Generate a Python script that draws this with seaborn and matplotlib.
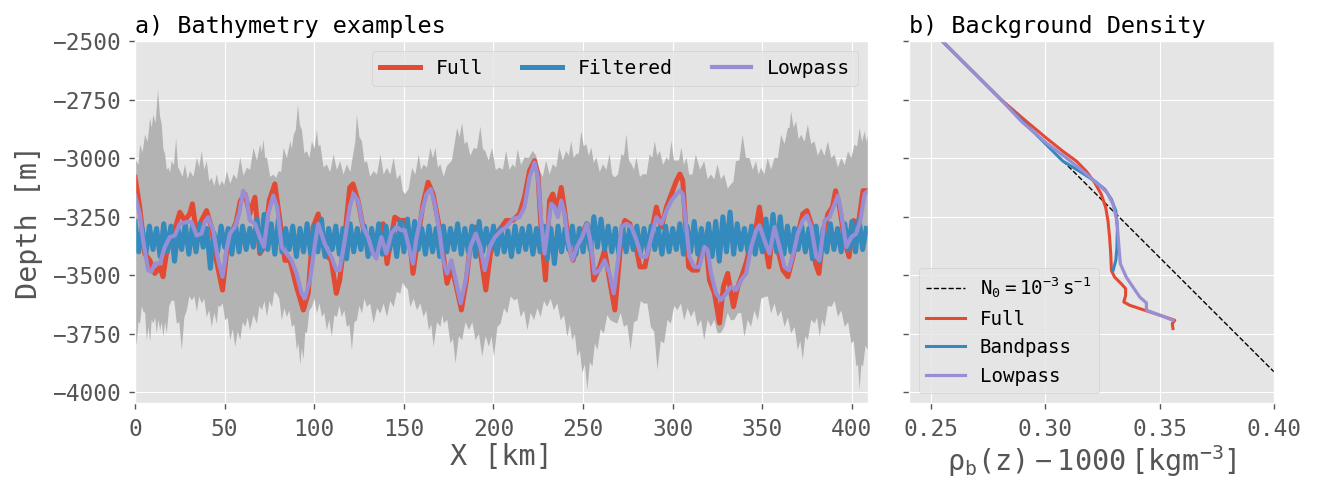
import numpy as np
import matplotlib
matplotlib.use("Agg")
import matplotlib.pyplot as plt
import seaborn as sns

# ---------------------------------------------------------------------------
# Panel a: bathymetry along the section (X in km, depth in m)
# ---------------------------------------------------------------------------
# Shallowest edge of the bathymetry ensemble: [X, depth]
ENV_TOP = np.array([
    [0, -3013], [0.9, -3013], [1.9, -3030], [2.8, -2942], [4.2, -2975], [5.6, -2900],
    [7.0, -2930], [8.4, -2829], [9.3, -2870], [10.2, -2815], [11.5, -2850], [12.8, -2708],
    [13.9, -2820], [14.9, -2857], [15.8, -2960], [16.8, -2985], [17.7, -3050], [18.6, -3041],
    [19.5, -3060], [20.5, -3013], [21.7, -3030], [22.9, -2914], [24.0, -3040], [25.1, -3055],
    [26.5, -3080], [27.9, -3027], [29.3, -3090], [30.7, -3055], [32.6, -3080], [34.5, -2998],
    [35.8, -3040], [37.2, -2970], [38.6, -3050], [40, -3013], [41.4, -3100], [42.8, -3083],
    [44.2, -3120], [45.6, -3069], [47.0, -3120], [48.4, -3097], [49.8, -3115], [51.2, -3055],
    [53.1, -3110], [55, -3069], [56.8, -3090], [58.7, -2998], [60.5, -3075], [62.4, -3041],
    [64.2, -3050], [66.1, -2956], [68.0, -3010], [69.8, -2942], [70.7, -2975], [71.7, -2921],
    [72.6, -3000], [73.6, -2998], [75.4, -3080], [77.3, -3070], [78.7, -3085], [80.1, -3055],
    [81.5, -3060], [82.9, -2956], [84.7, -3000], [86.6, -2928], [87.5, -2960], [88.5, -2900],
    [89.7, -2880], [90.9, -2773], [92.0, -2860], [93.1, -2879], [94.5, -2980], [95.9, -2970],
    [97.3, -3000], [98.7, -2928], [100.1, -2960], [101.5, -2879], [102.4, -2950], [103.4, -2942],
    [105.2, -3040], [107, -3027], [108.9, -3060], [110.8, -2985], [112.6, -3050], [114.5, -3013],
    [116.3, -3070], [118.2, -3027], [120.1, -3060], [122, -2970], [122.9, -2930], [123.8, -2815],
    [125.2, -2910], [126.6, -2928], [128.0, -3020], [129.4, -3013], [131.2, -3080], [133.1, -3055],
    [135.0, -3070], [136.9, -2985], [138.7, -3070], [140.6, -3041], [142.4, -3070], [144.3, -2998],
    [146.1, -3090], [148, -3069], [149.4, -3140], [150.8, -3154], [152.7, -3130], [154.6, -3041],
    [156.4, -3070], [158.3, -2985], [159.6, -3050], [161, -3027], [162.9, -3040], [164.8, -2956],
    [166.2, -3000], [167.6, -2956], [169.0, -3040], [170.4, -3027], [172.2, -3080], [174, -3034],
    [176.8, -3010], [179.7, -2872], [181.1, -2910], [182.5, -2850], [183.9, -2940], [185.3, -2928],
    [187.1, -2990], [189, -2957], [190.8, -2960], [192.7, -2865], [194.1, -2960], [195.5, -2971],
    [197.3, -3010], [199.2, -2957], [201.3, -3050], [203.4, -3040], [205.2, -3050], [207.1, -2969],
    [208.9, -3050], [210.8, -3026], [212.1, -3040], [213.5, -2962], [215.4, -3030], [217.3, -2997],
    [219.6, -3000], [221.9, -2969], [223.8, -2990], [225.7, -3054], [227.5, -3080], [229.4, -3011],
    [231.3, -3070], [233.1, -3026], [235.0, -3040], [236.8, -2955], [238.7, -3010], [240.6, -2969],
    [242.0, -2990], [243.4, -2927], [244.8, -3000], [246.2, -2983], [247.6, -2980], [249, -2884],
    [250.4, -2950], [251.8, -2941], [253.2, -2990], [254.6, -2955], [256.0, -3020], [257.4, -2997],
    [259.3, -3060], [261.1, -3026], [263.0, -3050], [264.8, -2983], [266.2, -3070], [267.6, -3082],
    [269.5, -3070], [271.4, -2983], [272.8, -2990], [274.2, -2898], [275.6, -3010], [277, -3026],
    [278.4, -3050], [279.8, -2997], [281.7, -3080], [283.5, -3068], [285.4, -3070], [287.2, -2983],
    [288.6, -3000], [290, -2927], [291.4, -2990], [292.8, -2969], [294.7, -3030], [296.5, -2997],
    [297.9, -3010], [299.3, -2927], [300.7, -3010], [302.1, -3010], [303.5, -3010], [304.9, -2955],
    [306.3, -3030], [307.7, -2997], [309.2, -3070], [311.0, -3070], [312.9, -2985], [315.3, -3050],
    [317.6, -3013], [319.5, -3090], [321.3, -3070], [323.2, -3090], [325, -3027], [326.9, -3090],
    [328.8, -3070], [330.7, -3130], [332.5, -3112], [333.9, -3100], [335.3, -3013], [337.2, -3010],
    [339, -2900], [340.9, -3000], [342.8, -2999], [344.7, -3050], [346.5, -3013], [347.9, -3070],
    [349.3, -3041], [351.2, -3070], [353, -2999], [354.9, -3050], [356.8, -2999], [358.7, -3000],
    [360.5, -2900], [362.4, -2940], [364.3, -2872], [365.2, -2870], [366.1, -2801], [367.5, -2870],
    [368.9, -2843], [370.3, -2920], [371.7, -2900], [373.6, -2930], [375.4, -2857], [377.3, -2940],
    [379.1, -2928], [381.0, -2990], [382.8, -2957], [384.7, -2990], [386.6, -2928], [388.5, -3000],
    [390.3, -2985], [392.2, -3040], [394.1, -2999], [396.0, -3030], [397.8, -2971], [399.7, -3000],
    [401.5, -2942], [402.9, -2950], [404.3, -2872], [405.7, -2930], [407.1, -2886], [408.1, -2930],
    [409, -2900],
])

# Deepest edge of the bathymetry ensemble: [X, depth]
ENV_BOT = np.array([
    [0, -3791], [0.9, -3791], [1.9, -3700], [2.8, -3706], [3.8, -3630], [4.7, -3656],
    [5.6, -3660], [6.5, -3777], [7.5, -3720], [8.4, -3784], [9.3, -3690], [10.2, -3706],
    [11.2, -3680], [12.1, -3748], [13.0, -3690], [14, -3734], [14.9, -3700], [15.8, -3762],
    [16.8, -3700], [17.7, -3748], [19.1, -3630], [20.5, -3607], [21.9, -3610], [23.3, -3706],
    [24.7, -3700], [26.1, -3819], [27.5, -3680], [28.9, -3649], [30.3, -3590], [31.7, -3607],
    [33.1, -3590], [34.5, -3656], [35.8, -3590], [37.2, -3621], [38.6, -3600], [40, -3678],
    [41.4, -3650], [42.8, -3720], [44.2, -3660], [45.6, -3706], [46.5, -3630], [47.5, -3635],
    [48.9, -3620], [50.3, -3692], [51.7, -3680], [53.1, -3777], [54.5, -3730], [55.9, -3805],
    [57.3, -3740], [58.7, -3777], [60.1, -3700], [61.5, -3720], [62.8, -3680], [64.2, -3734],
    [66.1, -3670], [68, -3706], [69.4, -3630], [70.8, -3649], [72.2, -3610], [73.6, -3678],
    [75.0, -3610], [76.4, -3635], [77.7, -3570], [79.1, -3579], [80.5, -3600], [81.9, -3692],
    [83.3, -3640], [84.7, -3678], [86.1, -3650], [87.5, -3720], [88.9, -3710], [90.3, -3819],
    [91.2, -3790], [92.2, -3883], [93.1, -3810], [94, -3861], [95.0, -3740], [95.9, -3748],
    [97.3, -3650], [98.7, -3635], [100.1, -3600], [101.5, -3663], [102.9, -3620], [104.3, -3678],
    [105.6, -3660], [107, -3734], [108.4, -3690], [109.8, -3762], [111.2, -3670], [112.6, -3678],
    [114.0, -3630], [115.4, -3678], [116.8, -3650], [118.2, -3720], [119.6, -3710], [121, -3819],
    [122.4, -3700], [123.8, -3692], [125.2, -3630], [126.6, -3663], [128.0, -3600], [129.4, -3635],
    [131.2, -3620], [133.1, -3706], [135.0, -3640], [136.9, -3663], [138.7, -3620], [140.6, -3678],
    [142.4, -3610], [144.3, -3635], [146.1, -3570], [148, -3579], [149.4, -3530], [150.8, -3550],
    [152.2, -3560], [153.6, -3635], [155.5, -3600], [157.3, -3649], [159.2, -3620], [161, -3678],
    [162.5, -3650], [163.9, -3734], [165.3, -3710], [166.6, -3805], [168.5, -3700], [170.4, -3720],
    [171.4, -3670], [172.3, -3706], [174.2, -3690], [176, -3791], [177.4, -3770], [178.8, -3876],
    [180.7, -3760], [182.5, -3777], [184.4, -3700], [186.3, -3734], [188.2, -3700], [190, -3777],
    [191.9, -3750], [193.7, -3847], [195.6, -3760], [197.5, -3805], [198.9, -3760], [200.3, -3847],
    [202.2, -3720], [204, -3706], [205.9, -3640], [207.7, -3663], [209.6, -3590], [211.5, -3607],
    [213.4, -3600], [215.2, -3678], [217.1, -3650], [218.9, -3734], [220.8, -3660], [222.6, -3692],
    [224.5, -3640], [226.3, -3678], [228.2, -3610], [230, -3635], [231.9, -3600], [233.7, -3649],
    [235.6, -3620], [237.5, -3692], [239.4, -3670], [241.2, -3762], [242.6, -3710], [244, -3777],
    [245.4, -3750], [246.8, -3847], [248.2, -3820], [249.6, -3918], [251.0, -3880], [252.4, -3989],
    [253.8, -3870], [255.2, -3890], [256.6, -3790], [258, -3819], [259.8, -3730], [261.6, -3748],
    [263.5, -3670], [265.3, -3692], [267.2, -3700], [269.1, -3706], [271.0, -3660], [272.8, -3720],
    [274.7, -3710], [276.5, -3819], [278.4, -3700], [280.3, -3692], [282.2, -3610], [284, -3621],
    [285.9, -3620], [287.8, -3720], [289.7, -3740], [291.5, -3904], [293.4, -3780], [295.2, -3791],
    [297.1, -3690], [299, -3706], [300.9, -3630], [302.7, -3649], [304.6, -3620], [306.4, -3692],
    [308.3, -3640], [310.2, -3678], [312.1, -3650], [313.9, -3720], [315.8, -3690], [317.6, -3777],
    [319.5, -3690], [321.3, -3720], [323.2, -3690], [325.1, -3748], [327.0, -3745], [328.8, -3720],
    [330.7, -3660], [332.5, -3692], [334.4, -3690], [336.3, -3663], [338.2, -3660], [340, -3762],
    [341.9, -3690], [343.7, -3720], [345.6, -3650], [347.5, -3692], [349.4, -3600], [351.2, -3593],
    [353.1, -3590], [354.9, -3663], [356.8, -3620], [358.6, -3678], [360.5, -3650], [362.4, -3720],
    [364.3, -3680], [366.1, -3748], [368.0, -3720], [369.8, -3819], [371.2, -3780], [372.6, -3861],
    [374.0, -3760], [375.4, -3777], [377.3, -3690], [379.2, -3706], [380.6, -3680], [382, -3762],
    [383.4, -3690], [384.7, -3720], [386.6, -3630], [388.5, -3635], [390.4, -3610], [392.2, -3678],
    [394.1, -3650], [396, -3720], [397.9, -3700], [399.7, -3791], [401.1, -3780], [402.5, -3890],
    [403.4, -3880], [404.3, -3989], [405.3, -3880], [406.2, -3890], [407.6, -3800], [409, -3819],
])

# Full-spectrum bathymetry example
FULL_X = [0, 2.6, 5.4, 8.2, 11, 13.8, 15.6, 17.5, 20.3, 23.1, 25, 27.7, 30.5, 32, 34.3, 37.1,
          39.9, 42.6, 45.4, 48.8, 51, 53.3, 56.2, 58.8, 61.3, 64, 66.9, 69.6, 71.9, 74.9, 78,
          80.8, 83.6, 86.4, 90.1, 93.9, 96.6, 99.4, 102.2, 105.8, 109.5, 112.3, 114.2, 117,
          119.8, 121.6, 124.4, 127.2, 130, 132.8, 135.6, 138.4, 140.6, 143, 144.9, 147.7,
          150.5, 153.2, 155.1, 157.9, 160.7, 163.5, 166.3, 169.1, 171.9, 174.1, 176.5, 179.3,
          182.1, 184.9, 187.3, 190.1, 193.3, 195.7, 198.3, 201.7, 204.5, 207.1, 210.8, 214.5,
          217.3, 220.1, 222.9, 224.8, 226.6, 229, 231.3, 233.1, 235.4, 237.8, 239.7, 242.2,
          244.4, 246.5, 249.5, 252.1, 254, 255.9, 259.2, 262, 264.8, 267.7, 269.9, 271.4,
          273.3, 276.1, 278.9, 281.7, 284.5, 287.3, 290.9, 293.7, 296.5, 299.3, 302.1, 304,
          305.6, 307.4, 308.9, 311.1, 313.9, 316.7, 318.6, 320.5, 323.3, 326.1, 328.3, 330.7,
          333.9, 336.3, 339.1, 341.4, 343.8, 346.2, 348.4, 351.2, 353.7, 356.3, 358.7, 361.5,
          364.3, 367.1, 369.9, 372.6, 374.9, 377.3, 379.7, 381.6, 383.8, 386.6, 389.1, 390.9,
          393.1, 395.9, 398.4, 401, 403.4, 406.2, 409]
FULL_Z = [-3082, -3209, -3407, -3436, -3492, -3464, -3506, -3407, -3337, -3280, -3231, -3266,
          -3238, -3195, -3322, -3266, -3224, -3294, -3436, -3563, -3407, -3322, -3280, -3181,
          -3153, -3238, -3167, -3407, -3379, -3181, -3110, -3266, -3436, -3436, -3549, -3648,
          -3577, -3294, -3238, -3407, -3436, -3577, -3520, -3337, -3125, -3110, -3181, -3294,
          -3365, -3407, -3379, -3280, -3450, -3337, -3252, -3266, -3266, -3351, -3492, -3337,
          -3195, -3103, -3153, -3266, -3407, -3534, -3464, -3549, -3648, -3520, -3351, -3294,
          -3436, -3563, -3407, -3322, -3294, -3266, -3266, -3238, -3167, -3054, -3011, -3068,
          -3308, -3520, -3181, -3153, -3224, -3125, -3224, -3379, -3436, -3379, -3322, -3280,
          -3337, -3520, -3464, -3393, -3520, -3648, -3464, -3322, -3266, -3280, -3351, -3464,
          -3464, -3351, -3209, -3294, -3209, -3153, -3096, -3068, -3096, -3308, -3464, -3478,
          -3478, -3365, -3365, -3520, -3577, -3704, -3549, -3492, -3634, -3549, -3492, -3436,
          -3351, -3308, -3209, -3351, -3464, -3280, -3393, -3478, -3506, -3421, -3322, -3238,
          -3224, -3280, -3450, -3492, -3337, -3238, -3209, -3139, -3209, -3351, -3421, -3266,
          -3294, -3139, -3139]

# Band-pass filtered bathymetry example (sampled every 2 km)
FILT_X = np.arange(0, 409, 2)
FILT_Z = [-3270, -3400, -3300, -3410, -3290, -3390, -3300, -3420, -3280, -3400,
          -3290, -3440, -3300, -3390, -3280, -3410, -3290, -3400, -3280, -3380,
          -3300, -3470, -3320, -3400, -3290, -3380, -3300, -3410, -3280, -3400,
          -3290, -3390, -3300, -3380, -3260, -3400, -3240, -3390, -3280, -3410,
          -3260, -3400, -3300, -3390, -3290, -3420, -3300, -3400, -3280, -3410,
          -3290, -3400, -3260, -3420, -3300, -3390, -3290, -3410, -3300, -3430,
          -3280, -3400, -3300, -3390, -3290, -3420, -3300, -3400, -3280, -3410,
          -3290, -3390, -3300, -3420, -3270, -3400, -3260, -3410, -3270, -3390,
          -3300, -3410, -3290, -3400, -3300, -3420, -3290, -3400, -3300, -3390,
          -3280, -3410, -3300, -3400, -3290, -3420, -3270, -3400, -3300, -3390,
          -3290, -3410, -3300, -3400, -3310, -3420, -3290, -3400, -3300, -3390,
          -3290, -3410, -3300, -3400, -3290, -3430, -3300, -3450, -3290, -3400,
          -3300, -3390, -3290, -3410, -3300, -3400, -3280, -3390, -3250, -3380,
          -3260, -3390, -3290, -3400, -3300, -3410, -3290, -3400, -3300, -3390,
          -3290, -3410, -3300, -3400, -3290, -3390, -3300, -3410, -3290, -3400,
          -3300, -3390, -3280, -3410, -3290, -3400, -3270, -3410, -3300, -3400,
          -3280, -3420, -3270, -3440, -3250, -3400, -3230, -3410, -3280, -3390,
          -3300, -3400, -3290, -3410, -3300, -3400, -3260, -3390, -3240, -3400,
          -3250, -3410, -3290, -3400, -3300, -3390, -3290, -3400, -3300, -3430,
          -3290, -3440, -3300, -3400, -3280, -3390, -3300, -3400, -3280, -3390,
          -3270, -3400, -3260, -3390, -3300]

# Low-pass filtered bathymetry example
LOW_X = [0, 2.6, 4.5, 7.3, 9.1, 11, 13.8, 16.6, 19.4, 22.2, 25, 28.7, 31.5, 34.3, 37.1, 38.9,
         40.8, 43.6, 46.4, 48.8, 51, 52.9, 55.7, 58.1, 60.3, 62.2, 64, 66.9, 69.6, 71.9, 74.3,
         77.1, 79.3, 81.8, 84.5, 87.3, 90.1, 92.9, 94.8, 97.6, 100.4, 102.2, 105.8, 109.5,
         112.3, 114.2, 117, 119.8, 121.9, 124.4, 127.2, 130, 132.8, 134.6, 137.4, 140.2, 143,
         145.8, 148.6, 150.5, 153.2, 155.1, 156.8, 159.8, 162.6, 165, 167.2, 170, 171.9,
         174.1, 176.5, 179.3, 181.7, 184.5, 187.1, 190.1, 192.7, 195.1, 197.9, 200.8, 204.5,
         207.1, 210.8, 214.5, 217.3, 220.1, 222.9, 224.8, 226.6, 228.5, 230.4, 232.2, 234.1,
         235.9, 237.8, 239.7, 241.5, 244, 246.5, 249.5, 252.1, 254, 256.4, 259.2, 262, 264.8,
         267.1, 269.5, 271.4, 274.2, 277, 279.8, 282.6, 285.3, 288.1, 290.9, 293.7, 296.5,
         299.3, 302.1, 304, 305.6, 307.4, 309.3, 312.1, 314.9, 317.7, 319.5, 321.4, 324.2,
         327, 329.8, 332.6, 335.4, 338.2, 341, 343.8, 346.6, 348.4, 351.2, 354, 356.8, 359.6,
         362.4, 364.8, 367.4, 369.8, 372.6, 374.9, 377.3, 380.1, 381.9, 384.7, 387.5, 390.4,
         392.2, 394.1, 396.9, 399.7, 402.4, 404.7, 407.1, 409]
LOW_Z = [-3160, -3238, -3351, -3478, -3485, -3450, -3450, -3379, -3337, -3330, -3280, -3273,
         -3273, -3330, -3322, -3273, -3252, -3308, -3436, -3506, -3393, -3322, -3294, -3238,
         -3139, -3167, -3266, -3280, -3337, -3379, -3238, -3160, -3209, -3379, -3407, -3436,
         -3492, -3577, -3598, -3520, -3365, -3280, -3365, -3421, -3478, -3478, -3351, -3209,
         -3153, -3181, -3294, -3337, -3407, -3429, -3337, -3407, -3322, -3294, -3308, -3308,
         -3393, -3450, -3351, -3238, -3153, -3132, -3195, -3322, -3436, -3492, -3436, -3534,
         -3619, -3520, -3379, -3322, -3379, -3478, -3379, -3337, -3308, -3294, -3259, -3252,
         -3209, -3082, -3019, -3082, -3266, -3407, -3294, -3195, -3209, -3252, -3181, -3238,
         -3351, -3436, -3379, -3337, -3280, -3351, -3492, -3478, -3436, -3492, -3577, -3436,
         -3294, -3280, -3294, -3351, -3421, -3421, -3337, -3252, -3280, -3224, -3181, -3153,
         -3139, -3153, -3280, -3421, -3464, -3464, -3379, -3393, -3492, -3577, -3605, -3577,
         -3549, -3563, -3520, -3492, -3379, -3308, -3287, -3351, -3407, -3294, -3379, -3464,
         -3478, -3407, -3322, -3266, -3245, -3294, -3421, -3436, -3266, -3252, -3195, -3160,
         -3238, -3379, -3337, -3322, -3266, -3153, -3140]

# ---------------------------------------------------------------------------
# Panel b: background density profiles (rho_b - 1000, depth)
# ---------------------------------------------------------------------------
N0_RHO = [0.2552, 0.4000]
N0_Z = [-2500, -3912]

RHO_FULL = [0.2554, 0.2806, 0.2917, 0.3004, 0.3077, 0.3136, 0.3179, 0.3216, 0.3245, 0.3264,
            0.3274, 0.3281, 0.3286, 0.3289, 0.3303, 0.3332, 0.3351, 0.3351, 0.3343, 0.3369,
            0.3434, 0.3500, 0.3566, 0.3555, 0.3558]
Z_FULL = [-2505, -2750, -2843, -2914, -2971, -3013, -3056, -3105, -3155, -3211, -3268, -3338,
          -3409, -3480, -3508, -3536, -3557, -3586, -3614, -3628, -3649, -3670, -3692, -3706,
          -3727]

RHO_BAND = [0.2554, 0.2806, 0.2902, 0.3004, 0.3077, 0.3150, 0.3216, 0.3260, 0.3289, 0.3308,
            0.3315, 0.3313, 0.3308, 0.3296]
Z_BAND = [-2505, -2750, -2843, -2942, -3013, -3056, -3098, -3133, -3176, -3225, -3296, -3381,
          -3437, -3480]

RHO_LOW = [0.2554, 0.2806, 0.2895, 0.3004, 0.3092, 0.3165, 0.3223, 0.3270, 0.3296, 0.3313,
           0.3322, 0.3328, 0.3354, 0.3383, 0.3413, 0.3442, 0.3442, 0.3500, 0.3558]
Z_LOW = [-2505, -2750, -2843, -2935, -2999, -3056, -3105, -3147, -3197, -3268, -3381, -3451,
         -3508, -3550, -3593, -3618, -3649, -3670, -3692]

X_TICKS = [0, 50, 100, 150, 200, 250, 300, 350, 400]
Z_TICKS = [-2500, -2750, -3000, -3250, -3500, -3750, -4000]
RHO_TICKS = [0.25, 0.30, 0.35, 0.40]

# ---------------------------------------------------------------------------
plt.style.use("ggplot")
plt.rcParams["font.family"] = ["DejaVu Sans Mono", "DejaVu Sans"]
plt.rcParams["mathtext.default"] = "regular"

RED, BLUE, PURPLE = "#E24A33", "#348ABD", "#988ED5"
TICK_FS, TITLE_FS, LABEL_FS = 16.5, 16.9, 20.5
LEGEND_A_FS, LEGEND_B_FS = 14.2, 13.8

fig = plt.figure(figsize=(13.19, 4.88), dpi=100)
ax1 = fig.add_axes([0.1024, 0.1742, 0.5557, 0.7418])
ax2 = fig.add_axes([0.6892, 0.1742, 0.2767, 0.7418], sharey=ax1)

# --- panel a
ax1.fill(np.r_[ENV_TOP[:, 0], ENV_BOT[::-1, 0]], np.r_[ENV_TOP[:, 1], ENV_BOT[::-1, 1]],
         color="0.7", lw=0, zorder=1.5)
sns.lineplot(x=FULL_X, y=FULL_Z, ax=ax1, color=RED, lw=3.6, label="Full",
             estimator=None, sort=False, zorder=2)
sns.lineplot(x=FILT_X, y=FILT_Z, ax=ax1, color=BLUE, lw=3.6, label="Filtered",
             estimator=None, sort=False, zorder=2.1)
sns.lineplot(x=LOW_X, y=LOW_Z, ax=ax1, color=PURPLE, lw=3.0, label="Lowpass",
             estimator=None, sort=False, zorder=2.2)

ax1.set_xlim(0, 409)
ax1.set_ylim(-4045, -2508)
ax1.set_xticks(X_TICKS)
ax1.set_yticks(Z_TICKS)
ax1.set_xlabel("X [km]", fontsize=LABEL_FS, labelpad=2)
ax1.set_ylabel("Depth [m]", fontsize=LABEL_FS, labelpad=6)
ax1.set_title("a) Bathymetry examples", loc="left", fontsize=TITLE_FS, color="black")
ax1.legend(loc="upper right", ncol=3, fontsize=LEGEND_A_FS)

# --- panel b
sns.lineplot(x=N0_RHO, y=N0_Z, ax=ax2, color="black", lw=1.0, ls="--",
             label=r"$N_0 = 10^{-3}\,s^{-1}$", estimator=None, sort=False, zorder=2)
sns.lineplot(x=RHO_FULL, y=Z_FULL, ax=ax2, color=RED, lw=2.2, label="Full",
             estimator=None, sort=False, zorder=2.1)
sns.lineplot(x=RHO_BAND, y=Z_BAND, ax=ax2, color=BLUE, lw=2.2, label="Bandpass",
             estimator=None, sort=False, zorder=2.2)
sns.lineplot(x=RHO_LOW, y=Z_LOW, ax=ax2, color=PURPLE, lw=2.3, label="Lowpass",
             estimator=None, sort=False, zorder=2.3)

ax2.set_xlim(0.2404, 0.40)
ax2.set_xticks(RHO_TICKS)
ax2.xaxis.set_major_formatter(matplotlib.ticker.FormatStrFormatter("%.2f"))
ax2.set_xlabel(r"$\rho_b(z) - 1000\,[kg m^{-3}]$", fontsize=LABEL_FS, labelpad=2)
ax2.set_ylabel("")
ax2.set_title("b) Background Density", loc="left", fontsize=TITLE_FS, color="black")
ax2.tick_params(labelleft=False)
ax2.legend(loc="lower left", fontsize=LEGEND_B_FS)

for ax in (ax1, ax2):
    ax.tick_params(labelsize=TICK_FS, length=4.5, width=1, pad=6)

fig.savefig("out.png", dpi=100)
